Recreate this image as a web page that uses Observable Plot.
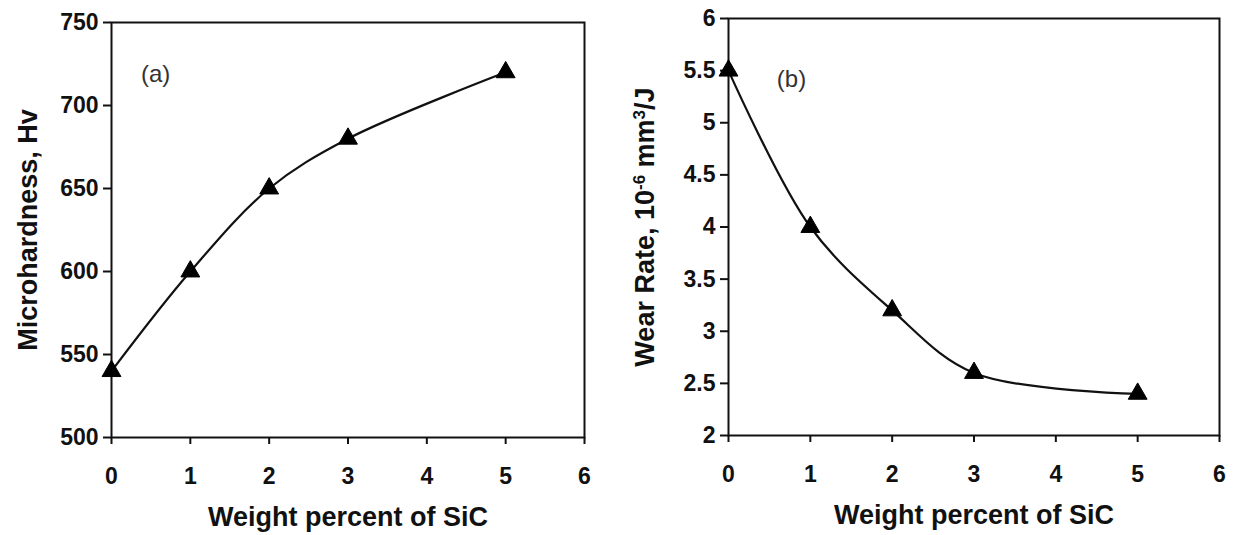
<!DOCTYPE html>
<html><head><meta charset="utf-8">
<script src="https://cdn.jsdelivr.net/npm/d3@7"></script>
<script src="https://cdn.jsdelivr.net/npm/@observablehq/plot@0.6"></script>
<style>
body{margin:0;background:#fff;}
#wrap{position:relative;width:1234px;height:535px;overflow:hidden;background:#fff;}
#pa{position:absolute;left:0;top:0;}
#pb{position:absolute;left:600px;top:0;}
svg text{font-family:"Liberation Sans",Arial,Helvetica,sans-serif;}
</style></head><body><div id="wrap"><div id="pa"></div><div id="pb"></div></div>
<script>
// data
const sicPercent = [0, 1, 2, 3, 5];
const microhardness = [540, 600, 650, 680, 720];
const wearRate = [5.5, 4.0, 3.2, 2.6, 2.4];
const xTicks = [0, 1, 2, 3, 4, 5, 6];
const hardTicks = [500, 550, 600, 650, 700, 750];
const wearTicks = [2, 2.5, 3, 3.5, 4, 4.5, 5, 5.5, 6];
const xTitle = "Weight percent of SiC";
const yTitleA = "Microhardness, Hv";
const yTitleB = "Wear Rate, 10-6 mm3/J";
const panelLabels = [{x: 0.56, y: 719, t: "(a)"}, {x: 0.77, y: 5.42, t: "(b)"}];

const dataA = sicPercent.map((x, i) => ({x, y: microhardness[i]}));
const dataB = sicPercent.map((x, i) => ({x, y: wearRate[i]}));
const fmt = d => String(d);

function panel({data, yDomain, yTicks, yTitle, label, width, mL, mR, mT, mB}) {
  return Plot.plot({
    width, height: 535,
    marginLeft: mL, marginRight: mR, marginTop: mT, marginBottom: mB,
    style: {fontFamily: "'Liberation Sans', Arial, sans-serif", fontSize: "23px", background: "transparent", overflow: "visible"},
    x: {domain: [0, 6], ticks: xTicks, label: null},
    y: {domain: yDomain, ticks: yTicks, label: null},
    marks: [
      Plot.axisX({ticks: xTicks, tickSize: 7, tickPadding: 23, fontSize: 23, fontWeight: "bold", stroke: "#111", strokeWidth: 2, fill: "#111", tickFormat: fmt, label: null}),
      Plot.axisY({ticks: yTicks, tickSize: 8, tickPadding: 5, fontSize: 23, fontWeight: "bold", stroke: "#111", strokeWidth: 2, fill: "#111", tickFormat: fmt, label: null}),
      Plot.frame({stroke: "#111", strokeWidth: 2}),
      Plot.line(data, {x: "x", y: "y", curve: "catmull-rom", stroke: "#111", strokeWidth: 2.2}),
      Plot.dot(data, {x: "x", y: "y", symbol: "triangle", r: 7, fill: "#000", stroke: "#000", strokeWidth: 1}),
      Plot.text([label], {x: "x", y: "y", text: "t", fontSize: 24, fill: "#333", textAnchor: "middle"}),
      Plot.text([xTitle], {frameAnchor: "bottom", dy: 80, fontSize: 27, fontWeight: "bold", fill: "#111", textAnchor: "middle", lineAnchor: "middle"}),
      Plot.text([yTitle], {frameAnchor: "left", dx: -83, rotate: -90, fontSize: 27, fontWeight: "bold", fill: "#111", textAnchor: "middle", lineAnchor: "middle"})
    ]
  });
}

const a = panel({data: dataA, yDomain: [500, 750], yTicks: hardTicks, yTitle: yTitleA, label: panelLabels[0],
  width: 600, mL: 111, mR: 16, mT: 22, mB: 98});
const b = panel({data: dataB, yDomain: [2, 6], yTicks: wearTicks, yTitle: yTitleB, label: panelLabels[1],
  width: 634, mL: 128, mR: 15, mT: 18, mB: 100});
document.getElementById("pa").appendChild(a);
document.getElementById("pb").appendChild(b);

// superscripts in the wear-rate title
d3.select(b).selectAll("text").filter(function() { return this.textContent === yTitleB; })
  .each(function() {
    const t = d3.select(this);
    t.text(null);
    t.append("tspan").text("Wear Rate, 10");
    t.append("tspan").attr("baseline-shift", "super").attr("font-size", "17").text("-6");
    t.append("tspan").text(" mm");
    t.append("tspan").attr("baseline-shift", "super").attr("font-size", "17").text("3");
    t.append("tspan").text("/J");
  });
</script></body></html>
